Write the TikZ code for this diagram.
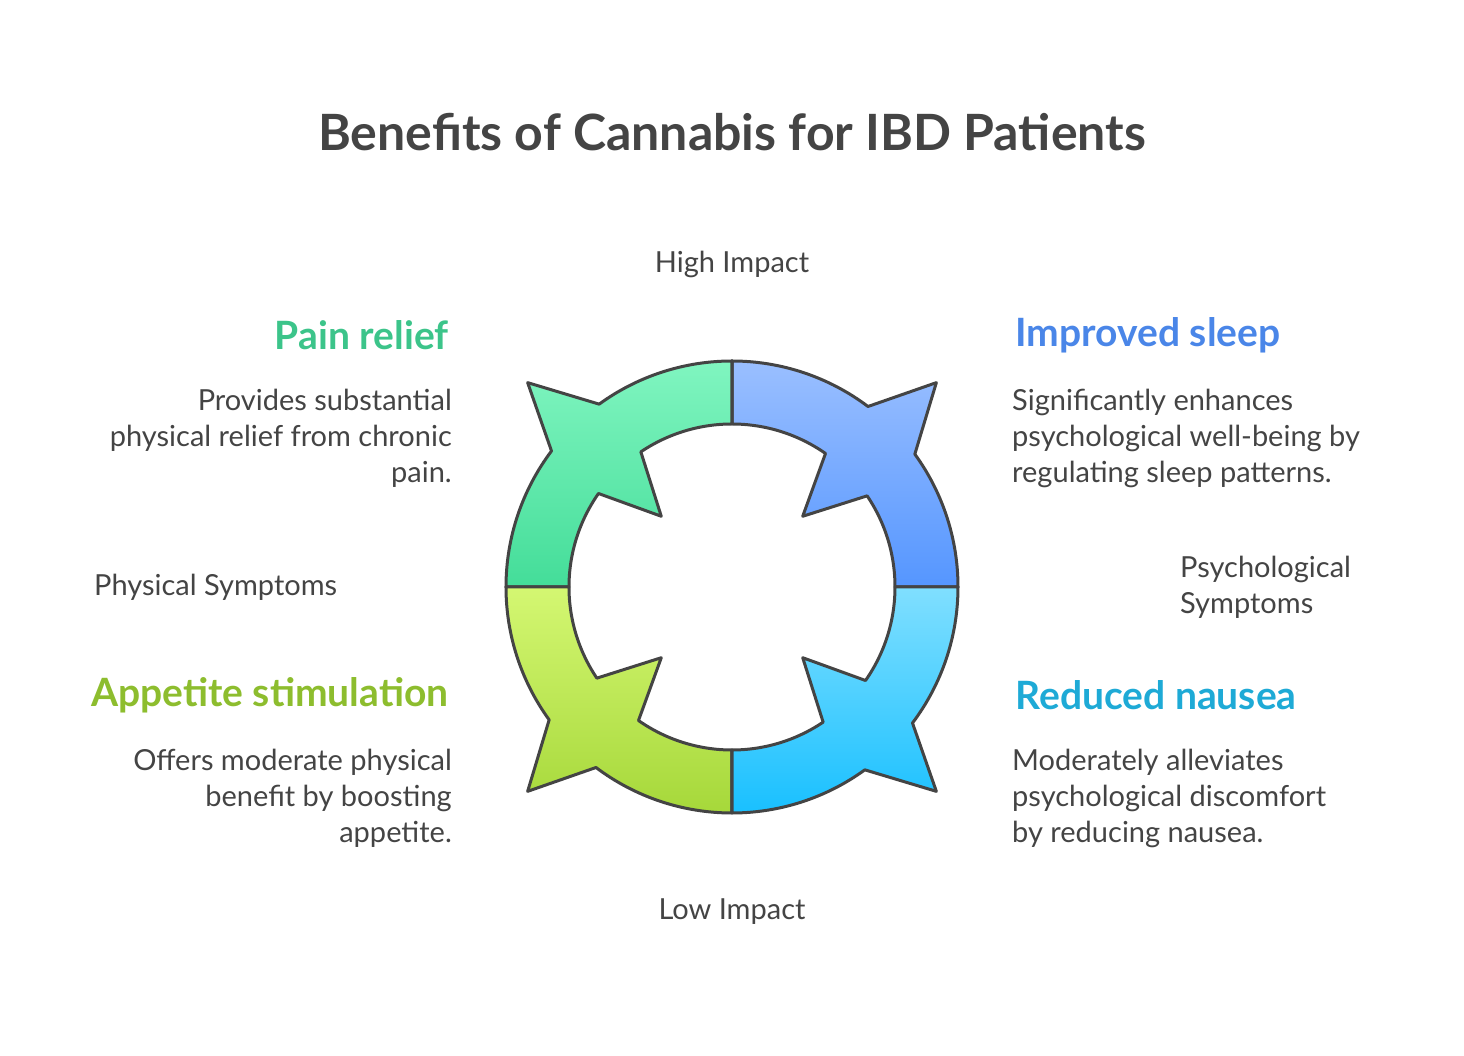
\documentclass[tikz,border=0pt]{standalone}
\usepackage{fontspec}
\setmainfont{Lato}
\definecolor{ink}{HTML}{444444}
\definecolor{painc}{HTML}{3CC48A}
\definecolor{sleepc}{HTML}{4A86E8}
\definecolor{appc}{HTML}{8DBD2E}
\definecolor{nausc}{HTML}{1EAAD6}
\definecolor{sleeptop}{HTML}{9ABFFF}
\definecolor{sleepbot}{HTML}{5596FF}
\definecolor{paintop}{HTML}{80F5C0}
\definecolor{painbot}{HTML}{44DD99}
\definecolor{apptop}{HTML}{D4F772}
\definecolor{appbot}{HTML}{A6D83A}
\definecolor{naustop}{HTML}{80DFFF}
\definecolor{nausbot}{HTML}{19C0FF}
\tikzset{
  piece/.style={draw=ink, line width=3pt, line join=round},
  head/.style={font=\fontsize{39}{44}\selectfont\bfseries},
  desc/.style={font=\fontsize{29}{36}\selectfont, text=ink, inner sep=0pt},
  axis/.style={font=\fontsize{29}{36}\selectfont, text=ink, inner sep=0pt}
}
% one quadrant of the ring, starting at angle #1
\newcommand{\ringpiece}[3]{%
  \shade[piece, top color=#2, bottom color=#3]
    (#1:226) arc[start angle=#1, end angle=#1+36, radius=226]
    -- (#1+45:289) -- (#1+53:226)
    arc[start angle=#1+53, end angle=#1+90, radius=226]
    -- (#1+90:163) arc[start angle=#1+90, end angle=#1+55, radius=163]
    -- (#1+45:100) -- (#1+34:163)
    arc[start angle=#1+34, end angle=#1, radius=163] -- cycle;}
\begin{document}
\begin{tikzpicture}[x=1pt,y=1pt]
  \useasboundingbox (-732,-469) rectangle (732,587);
  \node[font=\fontsize{50}{56}\selectfont\bfseries, text=ink] (title) at (0,455) {Benefits of Cannabis for IBD Patients};

  \ringpiece{0}{sleeptop}{sleepbot}
  \ringpiece{90}{paintop}{painbot}
  \ringpiece{180}{apptop}{appbot}
  \ringpiece{270}{naustop}{nausbot}

  \node[axis] (high) at (0,323) {High Impact};
  \node[axis] (low) at (0,-325) {Low Impact};
  \node[axis, anchor=west] (phys) at (-638,0) {Physical Symptoms};
  \node[axis, anchor=west, align=left] (psych) at (448,0) {Psychological\\Symptoms};

  \node[head, text=painc, anchor=east] (pain) at (-280,252) {Pain relief};
  \node[desc, anchor=north east, align=right] (paind) at (-280,198) {Provides substantial\\physical relief from chronic\\pain.};
  \node[head, text=sleepc, anchor=west] (sleep) at (280,252) {Improved sleep};
  \node[desc, anchor=north west, align=left] (sleepd) at (280,198) {Significantly enhances\\psychological well-being by\\regulating sleep patterns.};
  \node[head, text=appc, anchor=east] (app) at (-280,-108) {Appetite stimulation};
  \node[desc, anchor=north east, align=right] (appd) at (-280,-162) {Offers moderate physical\\benefit by boosting\\appetite.};
  \node[head, text=nausc, anchor=west] (naus) at (280,-108) {Reduced nausea};
  \node[desc, anchor=north west, align=left] (nausd) at (280,-162) {Moderately alleviates\\psychological discomfort\\by reducing nausea.};
\end{tikzpicture}
\end{document}
